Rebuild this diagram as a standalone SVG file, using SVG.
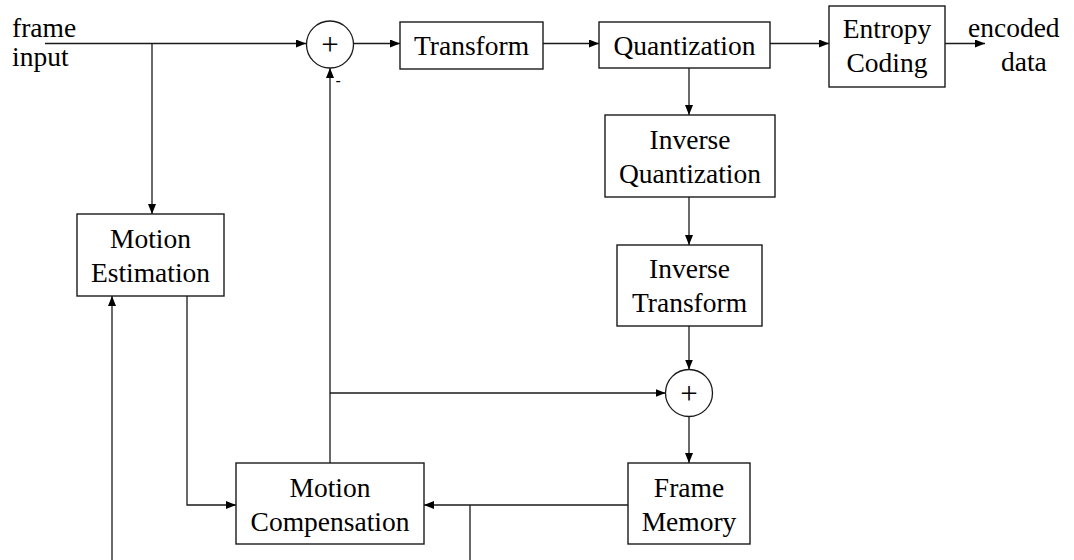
<svg xmlns="http://www.w3.org/2000/svg" width="1074" height="560" viewBox="0 0 1074 560">
<style>
.box{fill:#fff;stroke:#1a1a1a;stroke-width:1.4}
.ln{fill:none;stroke:#1a1a1a;stroke-width:1.3}
.t{font-family:"Liberation Serif","Times New Roman",serif;font-size:27.5px;fill:#000;text-anchor:middle}
.ts{font-family:"Liberation Serif","Times New Roman",serif;font-size:27.5px;fill:#000}
.plus{font-family:"Liberation Serif","Times New Roman",serif;font-size:31px;fill:#000;text-anchor:middle}
</style>
<defs>
<marker id="ah" viewBox="0 0 10 8" refX="10" refY="4" markerWidth="10" markerHeight="8" markerUnits="userSpaceOnUse" orient="auto">
<path d="M0,0 L10,4 L0,8 Z" fill="#000"/>
</marker>
</defs>
<rect width="1074" height="560" fill="#fff"/>
<g id="connectors">
<path class="ln" d="M45,43.5 H306" marker-end="url(#ah)"/>
<path class="ln" d="M152,43.5 V214" marker-end="url(#ah)"/>
<path class="ln" d="M354,43.5 H400" marker-end="url(#ah)"/>
<path class="ln" d="M543,43.5 H599" marker-end="url(#ah)"/>
<path class="ln" d="M770,43.5 H829" marker-end="url(#ah)"/>
<path class="ln" d="M945,43.5 H985" marker-end="url(#ah)"/>
<path class="ln" d="M689,68 V115" marker-end="url(#ah)"/>
<path class="ln" d="M689,197 V245" marker-end="url(#ah)"/>
<path class="ln" d="M689,326 V369.5" marker-end="url(#ah)"/>
<path class="ln" d="M689,416.5 V463" marker-end="url(#ah)"/>
<path class="ln" d="M330,463 V68" marker-end="url(#ah)"/>
<path class="ln" d="M330,393 H665.5" marker-end="url(#ah)"/>
<path class="ln" d="M628,505 H424" marker-end="url(#ah)"/>
<path class="ln" d="M470,505 V560"/>
<path class="ln" d="M187,296 V505 H236" marker-end="url(#ah)"/>
<path class="ln" d="M112,560 V296" marker-end="url(#ah)"/>
</g>
<g id="input-label">
<text class="ts" x="12" y="37">frame</text>
<text class="ts" x="12" y="66">input</text>
</g>
<g id="sum1">
<circle cx="330" cy="44.5" r="23.5" fill="#fff" stroke="#1a1a1a" stroke-width="1.3"/>
<text class="plus" x="330" y="55">+</text>
<text x="335.5" y="86" font-family="Liberation Sans, Arial, sans-serif" font-size="16" fill="#000">-</text>
</g>
<g id="transform">
<rect class="box" x="400" y="22" width="143" height="47"/>
<text class="t" x="471.5" y="55">Transform</text>
</g>
<g id="quantization">
<rect class="box" x="599" y="22" width="171" height="46"/>
<text class="t" x="684.5" y="55">Quantization</text>
</g>
<g id="entropy">
<rect class="box" x="829" y="6" width="116" height="81"/>
<text class="t" x="887" y="38">Entropy</text>
<text class="t" x="887" y="72">Coding</text>
</g>
<g id="output-label">
<text class="ts" x="968" y="37">encoded</text>
<text class="ts" x="1001" y="71">data</text>
</g>
<g id="inv-quant">
<rect class="box" x="605" y="115" width="170" height="82"/>
<text class="t" x="690" y="149">Inverse</text>
<text class="t" x="690" y="183">Quantization</text>
</g>
<g id="inv-transform">
<rect class="box" x="617" y="245" width="145" height="81"/>
<text class="t" x="689.5" y="278">Inverse</text>
<text class="t" x="689.5" y="312">Transform</text>
</g>
<g id="sum2">
<circle cx="689" cy="393" r="23.5" fill="#fff" stroke="#1a1a1a" stroke-width="1.3"/>
<text class="plus" x="689" y="403.5">+</text>
</g>
<g id="frame-memory">
<rect class="box" x="628" y="463" width="122" height="81"/>
<text class="t" x="689" y="497">Frame</text>
<text class="t" x="689" y="531">Memory</text>
</g>
<g id="motion-estimation">
<rect class="box" x="77" y="214" width="147" height="82"/>
<text class="t" x="150.5" y="248">Motion</text>
<text class="t" x="150.5" y="282">Estimation</text>
</g>
<g id="motion-compensation">
<rect class="box" x="236" y="463" width="188" height="81"/>
<text class="t" x="330" y="497">Motion</text>
<text class="t" x="330" y="531">Compensation</text>
</g>
</svg>
